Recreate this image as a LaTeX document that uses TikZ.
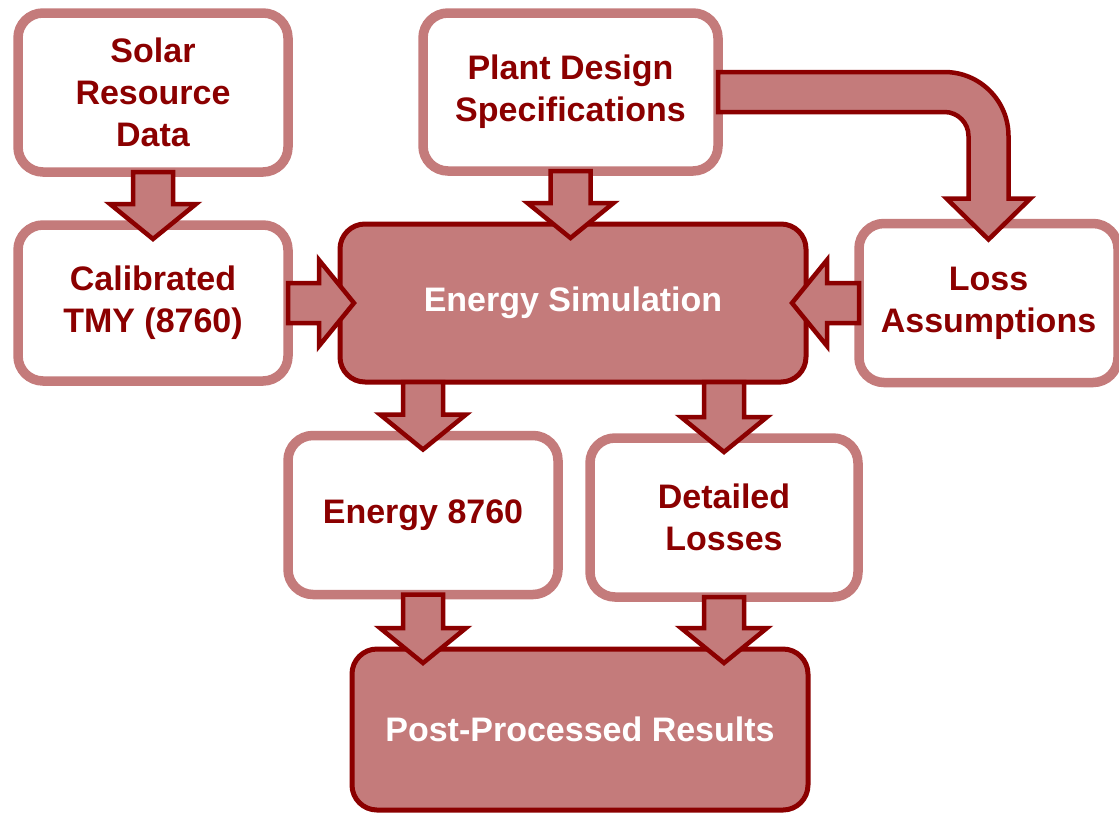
\documentclass[tikz,border=0pt]{standalone}
\usepackage{fontspec}
\setmainfont{Liberation Sans}
\usetikzlibrary{positioning,calc}

\definecolor{rosepink}{HTML}{C47B7B}
\definecolor{deepred}{HTML}{8B0000}

\tikzset{
  inbox/.style={draw=rosepink, line width=9.5pt, fill=white, rounded corners=25pt,
    outer sep=0pt, align=center, text=deepred,
    font=\fontsize{34}{42}\selectfont\bfseries},
  simbox/.style={draw=deepred, line width=5pt, fill=rosepink, rounded corners=25pt,
    outer sep=0pt, align=center, text=white,
    font=\fontsize{34}{42}\selectfont\bfseries},
  fatarrow/.style={draw=deepred, line width=4.5pt, fill=rosepink, line join=miter}
}

% block arrows: x (or y) of the shaft from #1, tip just past #2
\newcommand{\fatdown}[2]{%
  \draw[fatarrow] let \p1=(#1), \p2=(#2) in
    (\x1-20pt,\y1) -- (\x1-20pt,\y2+21pt) -- (\x1-43pt,\y2+21pt)
    -- (\x1,\y2-14pt) -- (\x1+43pt,\y2+21pt) -- (\x1+20pt,\y2+21pt)
    -- (\x1+20pt,\y1) -- cycle;}
\newcommand{\fatright}[2]{%
  \draw[fatarrow] let \p1=(#1), \p2=(#2) in
    (\x1,\y1+20pt) -- (\x2-21pt,\y1+20pt) -- (\x2-21pt,\y1+43pt)
    -- (\x2+14pt,\y1) -- (\x2-21pt,\y1-43pt) -- (\x2-21pt,\y1-20pt)
    -- (\x1,\y1-20pt) -- cycle;}
\newcommand{\fatleft}[2]{%
  \draw[fatarrow] let \p1=(#1), \p2=(#2) in
    (\x1,\y1+20pt) -- (\x2+21pt,\y1+20pt) -- (\x2+21pt,\y1+43pt)
    -- (\x2-14pt,\y1) -- (\x2+21pt,\y1-43pt) -- (\x2+21pt,\y1-20pt)
    -- (\x1,\y1-20pt) -- cycle;}

\begin{document}
\begin{tikzpicture}[x=1pt, y=-1pt]
  \useasboundingbox (0,0) rectangle (1119,815);

  \node[inbox, minimum width=270pt, minimum height=159pt] (solar) at (153,92.5)
    {Solar\\Resource\\Data};
  \node[inbox, minimum width=270pt, minimum height=156pt, below=53pt of solar]
    (calib) {Calibrated\\TMY (8760)};
  \node[inbox, minimum width=295pt, minimum height=158pt] (plant) at (570.5,92)
    {Plant Design\\Specifications};
  \node[simbox, minimum width=466pt, minimum height=158pt, right=52pt of calib]
    (sim) {Energy Simulation};
  \node[inbox, minimum width=259pt, minimum height=159pt, right=53pt of sim]
    (loss) {Loss\\Assumptions};
  \node[inbox, minimum width=270pt, minimum height=159pt] (e8760) at (423,515)
    {Energy 8760};
  \node[inbox, minimum width=268pt, minimum height=159pt] (detail) at (724,517.5)
    {Detailed\\Losses};
  \node[simbox, minimum width=456pt, minimum height=161pt] (post) at (580,729.5)
    {Post-Processed Results};

  \fatdown{solar.south}{calib.north}
  \fatdown{plant.south}{sim.north}
  \fatright{calib.east}{sim.west}
  \fatleft{loss.west}{sim.east}
  \fatdown{e8760 |- sim.south}{e8760.north}
  \fatdown{detail |- sim.south}{detail.north}
  \fatdown{e8760.south}{post.north}
  \fatdown{detail.south}{post.north}

  % bent arrow over to the loss box
  \draw[fatarrow] let \p1=(plant.east), \p2=(loss.north) in
    (\x1,\y1+20pt) -- (\x2-44pt,\y1+20pt) arc[start angle=90, end angle=0, radius=64pt]
    -- (\x2+20pt,\y2+25pt) -- (\x2+42pt,\y2+25pt) -- (\x2,\y2-16pt)
    -- (\x2-42pt,\y2+25pt) -- (\x2-20pt,\y2+25pt)
    -- (\x2-20pt,\y1-44pt) arc[start angle=0, end angle=90, radius=24pt]
    -- (\x1,\y1-20pt) -- cycle;
\end{tikzpicture}
\end{document}
